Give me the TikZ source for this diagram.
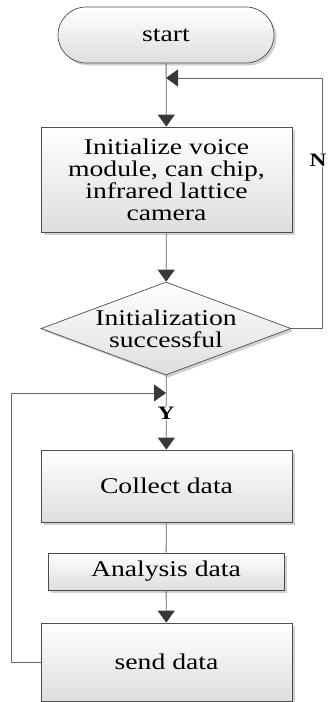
\documentclass[tikz,border=0pt]{standalone}
\usepackage{fontspec}
\setmainfont{Liberation Serif}[FakeStretch=1.23]
\usetikzlibrary{shapes.geometric,shapes.misc,arrows.meta,shadows}

\begin{document}
\begin{tikzpicture}[x=1pt,y=-1pt,
  font=\fontsize{22.5}{22}\selectfont,
  box/.style={draw=black!70,line width=0.7pt,top color=white,bottom color=black!13,
    drop shadow={shadow xshift=2.5pt,shadow yshift=-2.5pt,fill=black!18,opacity=1},
    inner sep=0pt,align=center},
  line/.style={draw=black!60,line width=0.8pt},
  arr/.style={line,-{Triangle[length=12pt,width=17pt,color=black!78]}},
  yn/.style={fill=white,inner sep=1pt,font=\fontsize{19}{19}\selectfont\bfseries}]
  \useasboundingbox (0,0) rectangle (327,702);
  \node[box,rounded rectangle,minimum width=216pt,minimum height=56pt] (start) at (166,35) {start};
  \node[box,minimum width=251pt,minimum height=105pt] (init) at (166.5,179.5)
    {Initialize voice\\module, can chip,\\infrared lattice\\camera};
  \node[box,diamond,aspect=2.69,inner sep=-2pt,minimum width=250pt,minimum height=93pt] (ok) at (166,328.5)
    {Initialization\\successful};
  \node[box,minimum width=251pt,minimum height=72pt] (collect) at (166.5,486) {Collect data};
  \node[box,minimum width=236pt,minimum height=37pt] (analysis) at (166,571.5) {Analysis data};
  \node[box,minimum width=251pt,minimum height=78pt] (send) at (166.5,662) {send data};
  \coordinate (m1) at (166,78);
  \coordinate (m2) at (166,393);
  % main flow
  \draw[arr] (start) -- (init);
  \draw[arr] (init) -- (ok);
  \draw[arr] (ok) -- (collect);
  \node[yn] (y) at (166,413) {Y};
  \draw[line] (collect) -- (analysis);
  \draw[arr] (analysis) -- (send);
  % loops back
  \draw[arr] (ok.east) -- (322,328.5) -- (322,78) -- (m1);
  \node[yn] (n) at (318,160) {N};
  \draw[arr] (send.west) -- (11,662) -- (11,393) -- (m2);
\end{tikzpicture}
\end{document}
